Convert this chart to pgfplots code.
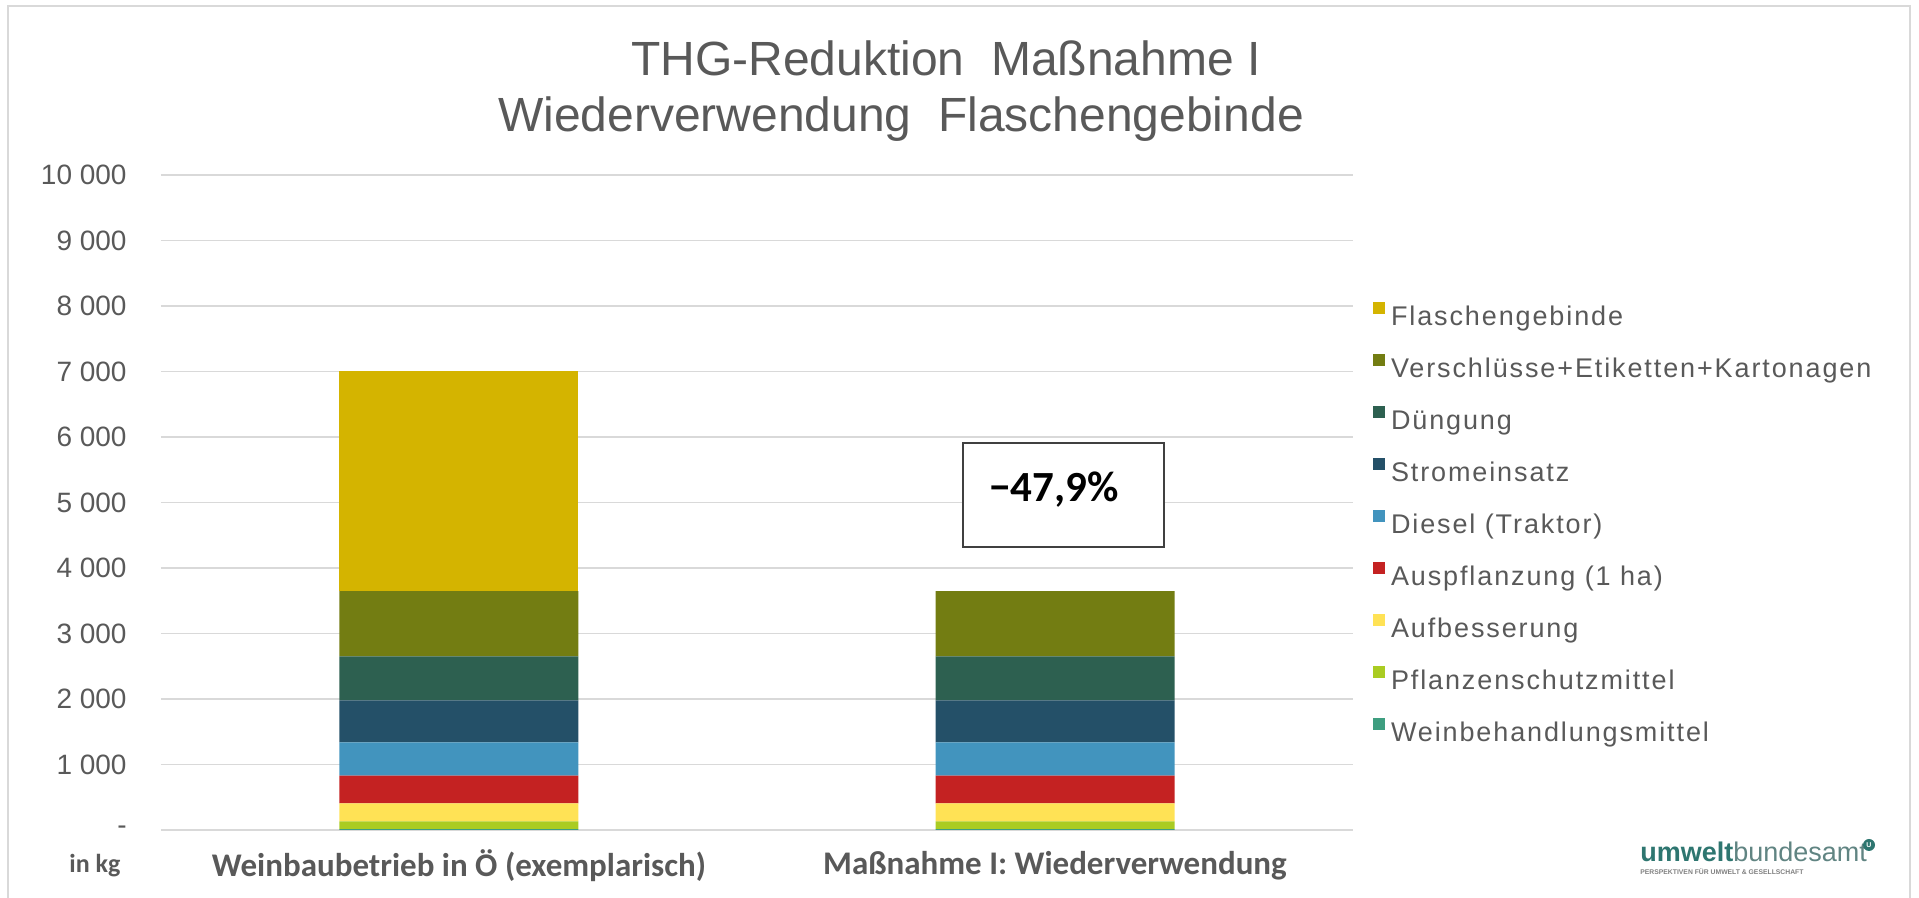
\documentclass[border=0pt]{standalone}
\usepackage{pgfplots}
\pgfplotsset{compat=1.18}
\usepackage{fontspec}
\setmainfont{Liberation Sans}
\newfontfamily\carlito{Carlito}
\definecolor{txt}{RGB}{89,89,89}
\definecolor{gridc}{RGB}{217,217,217}
\definecolor{cFlasche}{RGB}{212,180,0}
\definecolor{cVersch}{RGB}{115,125,18}
\definecolor{cDueng}{RGB}{45,96,80}
\definecolor{cStrom}{RGB}{36,80,104}
\definecolor{cDiesel}{RGB}{66,148,190}
\definecolor{cAuspf}{RGB}{196,34,34}
\definecolor{cAufb}{RGB}{255,226,85}
\definecolor{cPflanz}{RGB}{170,204,34}
\definecolor{cWein}{RGB}{62,158,128}
\definecolor{logoA}{RGB}{46,118,112}
\definecolor{logoB}{RGB}{96,132,130}
\definecolor{boxc}{RGB}{64,64,64}

\pgfplotstableread{
x Wein Pflanz Aufb Auspf Diesel Strom Dueng Versch Flasche
0 15 116 275 423 508 640 673 997 3353
1 15 116 275 423 508 640 673 997 0
}\datatab

\begin{document}
\begin{tikzpicture}
\begin{axis}[
  at={(0,0)}, anchor=south west,
  scale only axis, width=596pt, height=327.5pt,
  ybar stacked, bar width=119.5pt,
  xmin=-0.5, xmax=1.5, ymin=0, ymax=10000,
  enlarge x limits=false, enlarge y limits=false,
  scaled y ticks=false,
  clip=false,
  axis line style={draw=none},
  major tick length=0pt,
  ymajorgrids, grid style={gridc, line width=0.8pt},
  xtick={0,1},
  xticklabels={Weinbaubetrieb in Ö (exemplarisch), Maßnahme I: Wiederverwendung},
  xticklabel style={font=\carlito\bfseries\fontsize{16.5}{18}\selectfont, text=txt, anchor=center, inner sep=0pt, yshift=-18pt},
  ytick={0,1000,2000,3000,4000,5000,6000,7000,8000,9000,10000},
  yticklabels={-\hspace{9pt},1 000,2 000,3 000,4 000,5 000,6 000,7 000,8 000,9 000,10 000},
  yticklabel style={font=\fontsize{14}{16}\selectfont, text=txt, anchor=east, inner sep=0pt, xshift=-17pt},
  legend image code/.code={\fill[#1] (0pt,2pt) rectangle (6pt,8pt);},
  legend cell align=left,
  reverse legend,
  legend style={draw=none, fill=none, at={(axis description cs:1.0168,0.806)}, anchor=north west,
    inner sep=0pt, outer sep=0pt, row sep=11.5pt, column sep=3pt,
    font=\fontsize{13.5}{16}\selectfont\addfontfeatures{LetterSpace=7}, text=txt,
    nodes={inner sep=0pt, text height=10pt, text depth=3pt}},
]
\addplot[fill=cWein, draw=none] table[x=x, y=Wein] {\datatab};
\addlegendentry{Weinbehandlungsmittel}
\addplot[fill=cPflanz, draw=none] table[x=x, y=Pflanz] {\datatab};
\addlegendentry{Pflanzenschutzmittel}
\addplot[fill=cAufb, draw=none] table[x=x, y=Aufb] {\datatab};
\addlegendentry{Aufbesserung}
\addplot[fill=cAuspf, draw=none] table[x=x, y=Auspf] {\datatab};
\addlegendentry{Auspflanzung (1 ha)}
\addplot[fill=cDiesel, draw=none] table[x=x, y=Diesel] {\datatab};
\addlegendentry{Diesel (Traktor)}
\addplot[fill=cStrom, draw=none] table[x=x, y=Strom] {\datatab};
\addlegendentry{Stromeinsatz}
\addplot[fill=cDueng, draw=none] table[x=x, y=Dueng] {\datatab};
\addlegendentry{Düngung}
\addplot[fill=cVersch, draw=none] table[x=x, y=Versch] {\datatab};
\addlegendentry{Verschlüsse+Etiketten+Kartonagen}
\addplot[fill=cFlasche, draw=none] table[x=x, y=Flasche] {\datatab};
\addlegendentry{Flaschengebinde}
\end{axis}

% annotation box
\draw[boxc, line width=1pt, fill=white] (401pt,141.5pt) rectangle (501.5pt,193.5pt);
\node[font=\carlito\bfseries\fontsize{21.5}{24}\selectfont, text=black, inner sep=0pt] at (446.5pt,170pt) {\char"2212 47,9\%};

% title
\node[anchor=base, inner sep=0pt, font=\fontsize{24}{28}\selectfont, text=txt] at (392.5pt,377pt) {THG-Reduktion\ \ Maßnahme I};
\node[anchor=base, inner sep=0pt, font=\fontsize{24}{28}\selectfont, text=txt] at (370pt,349pt) {Wiederverwendung\ \ Flaschengebinde};

% unit
\node[font=\carlito\bfseries\fontsize{13}{14}\selectfont, text=txt, inner sep=0pt] at (-33pt,-18pt) {in kg};

% logo
\node[anchor=base west, inner sep=0pt, font=\fontsize{13.5}{14}\selectfont] at (739.5pt,-16pt) {\textcolor{logoA}{\textbf{umwelt}}\textcolor{logoB}{bundesamt}};
\fill[logoA] (854pt,-7.5pt) circle (3pt);
\node[inner sep=0pt, font=\fontsize{3.5}{4}\selectfont\bfseries, text=white] at (854pt,-7.5pt) {U};
\node[anchor=base west, inner sep=0pt, font=\fontsize{3.4}{4}\selectfont\bfseries, text=gray] at (739.5pt,-22.5pt) {PERSPEKTIVEN FÜR UMWELT \& GESELLSCHAFT};

% frame
\draw[gridc, line width=1pt] (-76.5pt,-40pt) -- (-76.5pt,412pt) -- (874.5pt,412pt) -- (874.5pt,-40pt);

\pgfresetboundingbox
\path[use as bounding box] (-80.5pt,-34pt) rectangle (879pt,415pt);
\end{tikzpicture}
\end{document}
